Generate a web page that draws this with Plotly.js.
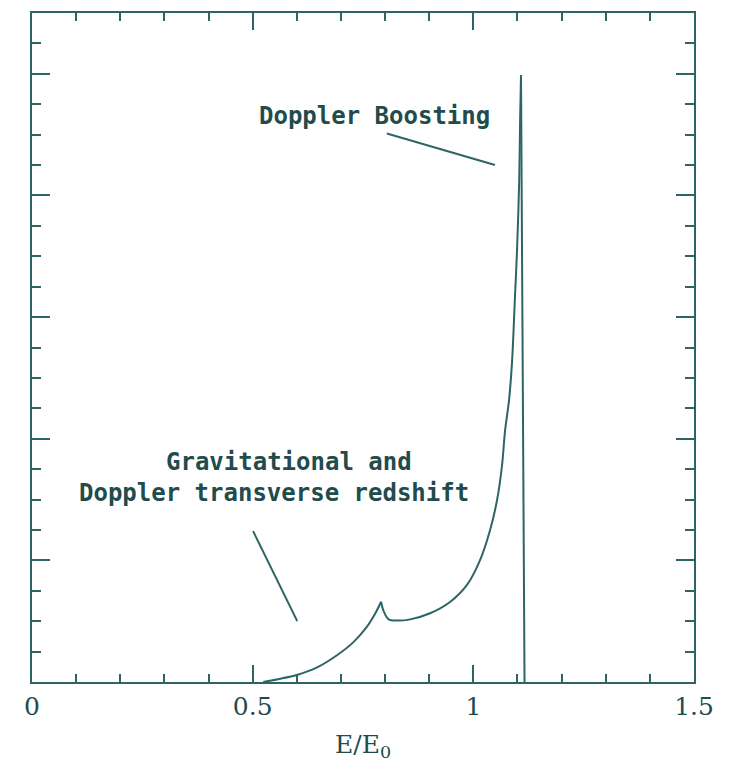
<!DOCTYPE html>
<html>
<head>
<meta charset="utf-8">
<script src="https://cdn.plot.ly/plotly-3.0.1.min.js"></script>
<style>html,body{margin:0;padding:0;background:#fff;}#chart{width:730px;height:768px;}</style>
</head>
<body>
<div id="chart"></div>
<script>
// E/E0 values of the line profile
var energy = [0.524, 0.56, 0.60, 0.646, 0.691, 0.729, 0.759, 0.778, 0.791, 0.797, 0.808, 0.827, 0.857, 0.902, 0.948, 0.986, 1.015, 1.038, 1.054, 1.065, 1.072, 1.081, 1.088, 1.094, 1.099, 1.104, 1.106, 1.108, 1.116];
// line flux (arbitrary units)
var flux = [0, 0.025, 0.058, 0.12, 0.22, 0.33, 0.455, 0.565, 0.66, 0.58, 0.515, 0.505, 0.515, 0.565, 0.66, 0.80, 1.0, 1.25, 1.5, 1.78, 2.07, 2.32, 2.65, 3.14, 3.55, 4.13, 4.62, 4.99, 0];
var xTickVals = [0, 0.5, 1, 1.5];
var xTickText = ['0', '0.5', '1', '1.5'];
var cuspE = 0.791;   // sharp cusp of the profile
var peakE = 1.108;   // Doppler boosted peak

var ink = '#2d6565';
var textInk = '#224b4b';
var monoFont = {family: 'DejaVu Sans Mono', size: 24, color: textInk, weight: 'bold'};

var iCusp = energy.indexOf(cuspE);
var iPeak = energy.indexOf(peakE);

function seg(a, b, shape) {
  return {
    x: energy.slice(a, b), y: flux.slice(a, b), type: 'scatter', mode: 'lines',
    line: {color: ink, width: 2, shape: shape, smoothing: 0.9}, hoverinfo: 'skip', showlegend: false
  };
}
var traces = [
  seg(0, iCusp + 1, 'spline'),
  seg(iCusp, iPeak + 1, 'spline'),
  seg(iPeak, energy.length, 'linear')
];

var layout = {
  width: 730, height: 768,
  margin: {l: 32, r: 36, t: 13, b: 86},
  paper_bgcolor: '#fff', plot_bgcolor: '#fff',
  showlegend: false,
  xaxis: {
    range: [0, 1.5], tickmode: 'array', tickvals: xTickVals, ticktext: xTickText,
    ticks: 'inside', ticklen: 17, tickwidth: 2, tickcolor: ink,
    showline: true, linewidth: 2, linecolor: ink, mirror: 'ticks',
    showgrid: false, zeroline: false,
    minor: {dtick: 0.1, tick0: 0, ticks: 'inside', ticklen: 8, tickwidth: 2, tickcolor: ink, showgrid: false},
    tickfont: {family: 'DejaVu Serif', size: 25, color: textInk},
    ticklabelstandoff: 1,
    title: {text: 'E/E<sub>0</sub>', font: {family: 'DejaVu Serif', size: 25, color: textInk}, standoff: 15}
  },
  yaxis: {
    range: [0, 5.5], tickmode: 'linear', tick0: 0, dtick: 1,
    ticks: 'inside', ticklen: 18, tickwidth: 2, tickcolor: ink,
    showline: true, linewidth: 2, linecolor: ink, mirror: 'ticks',
    showgrid: false, zeroline: false, showticklabels: false,
    minor: {dtick: 0.25, tick0: 0, ticks: 'inside', ticklen: 9, tickwidth: 2, tickcolor: ink, showgrid: false}
  },
  annotations: [
    {x: 0.775, y: 4.65, xref: 'x', yref: 'y', text: 'Doppler Boosting', showarrow: false, font: monoFont},
    {x: 0.583, y: 1.81, xref: 'x', yref: 'y', text: 'Gravitational and', showarrow: false, font: monoFont},
    {x: 0.548, y: 1.55, xref: 'x', yref: 'y', text: 'Doppler transverse redshift', showarrow: false, font: monoFont}
  ],
  shapes: [
    {type: 'line', xref: 'x', yref: 'y', x0: 0.804, y0: 4.51, x1: 1.049, y1: 4.25, line: {color: ink, width: 2}},
    {type: 'line', xref: 'x', yref: 'y', x0: 0.501, y0: 1.24, x1: 0.601, y1: 0.50, line: {color: ink, width: 2}}
  ]
};

Plotly.newPlot('chart', traces, layout, {displayModeBar: false, staticPlot: true});
</script>
</body>
</html>
